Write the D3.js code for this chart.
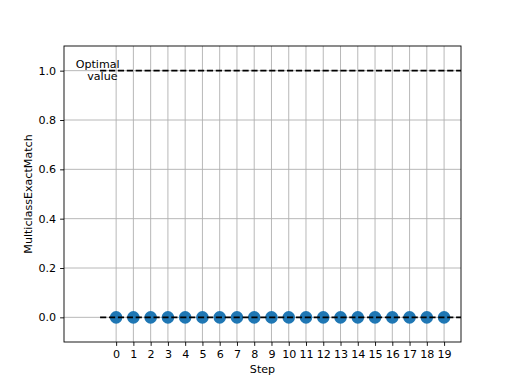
<!DOCTYPE html>
<html>
<head>
<meta charset="utf-8">
<script src="https://cdn.jsdelivr.net/npm/d3@7"></script>
<style>
  body { margin: 0; background: #fff; }
  text { font-family: "DejaVu Sans", sans-serif; fill: #000; }
</style>
</head>
<body>
<svg width="512" height="384"></svg>
<script>
/* ---------- data ---------- */
var steps = [0,1,2,3,4,5,6,7,8,9,10,11,12,13,14,15,16,17,18,19];
var scores = [0,0,0,0,0,0,0,0,0,0,0,0,0,0,0,0,0,0,0,0];
var yTicks = [0.0, 0.2, 0.4, 0.6, 0.8, 1.0];
var optimal = [1.0, 0.0]; // reference lines
var optimalLabel = ["Optimal", " value"];

/* ---------- layout ---------- */
var margin = { left: 64, right: 461, top: 46, bottom: 342 };
var svg = d3.select('svg');

var x = d3.scaleLinear().domain([-3.02, 19.98]).range([margin.left, margin.right]);
var y = d3.scaleLinear().domain([-0.1, 1.1]).range([margin.bottom, margin.top]);

// grid
var grid = svg.append('g');
grid.selectAll('line.vx').data(steps).enter().append('line')
  .attr('x1', d => x(d)).attr('x2', d => x(d))
  .attr('y1', margin.top).attr('y2', margin.bottom)
  .attr('stroke', '#b0b0b0').attr('stroke-width', 0.9);
grid.selectAll('line.hy').data(yTicks).enter().append('line')
  .attr('y1', d => y(d)).attr('y2', d => y(d))
  .attr('x1', margin.left).attr('x2', margin.right)
  .attr('stroke', '#b0b0b0').attr('stroke-width', 0.9);

// points
svg.append('g').selectAll('circle').data(steps).enter().append('circle')
  .attr('cx', d => x(d)).attr('cy', (d, i) => y(scores[i]))
  .attr('r', 6.3).attr('fill', '#1f77b4');

// dashed optimal / baseline lines
svg.append('defs').append('clipPath').attr('id', 'clip').append('rect')
  .attr('x', margin.left).attr('y', margin.top)
  .attr('width', margin.right - margin.left).attr('height', margin.bottom - margin.top);
svg.append('g').attr('clip-path', 'url(#clip)').selectAll('line').data(optimal).enter().append('line')
  .attr('x1', x(-0.93)).attr('x2', x(21))
  .attr('y1', d => y(d)).attr('y2', d => y(d))
  .attr('stroke', '#000').attr('stroke-width', 1.7)
  .attr('stroke-dasharray', '6.2,2.7');

// label
var lbl = svg.append('text').attr('text-anchor', 'middle').attr('font-size', 11.1);
optimalLabel.forEach(function (t, i) {
  lbl.append('tspan').attr('x', x(-1.07) + (i ? 3 : 0)).attr('y', y(1.0) - 2.5 + i * 11.4)
    .attr('xml:space', 'preserve').text(t);
});

// axes
var xAxis = d3.axisBottom(x).tickValues(steps).tickFormat(d3.format('d')).tickSize(3.9).tickPadding(4);
var yAxis = d3.axisLeft(y).tickValues(yTicks).tickFormat(d3.format('.1f')).tickSize(3.9).tickPadding(4);

var gx = svg.append('g').attr('transform', 'translate(0,' + margin.bottom + ')').call(xAxis);
var gy = svg.append('g').attr('transform', 'translate(' + margin.left + ',0)').call(yAxis);
[gx, gy].forEach(function (g) {
  g.select('.domain').remove();
  g.selectAll('line').attr('stroke', '#000').attr('stroke-width', 0.9);
  g.selectAll('text').attr('font-size', 11.1).attr('font-family', '"DejaVu Sans", sans-serif').attr('fill', '#000');
});

// frame
svg.append('rect').attr('x', margin.left).attr('y', margin.top)
  .attr('width', margin.right - margin.left).attr('height', margin.bottom - margin.top)
  .attr('fill', 'none').attr('stroke', '#000').attr('stroke-width', 0.9);

// axis titles
svg.append('text').attr('x', (margin.left + margin.right) / 2).attr('y', 373)
  .attr('text-anchor', 'middle').attr('font-size', 11.1).text('Step');
svg.append('text').attr('transform', 'translate(32,' + (margin.top + margin.bottom) / 2 + ') rotate(-90)')
  .attr('text-anchor', 'middle').attr('font-size', 11.1).text('MulticlassExactMatch');
</script>
</body>
</html>
